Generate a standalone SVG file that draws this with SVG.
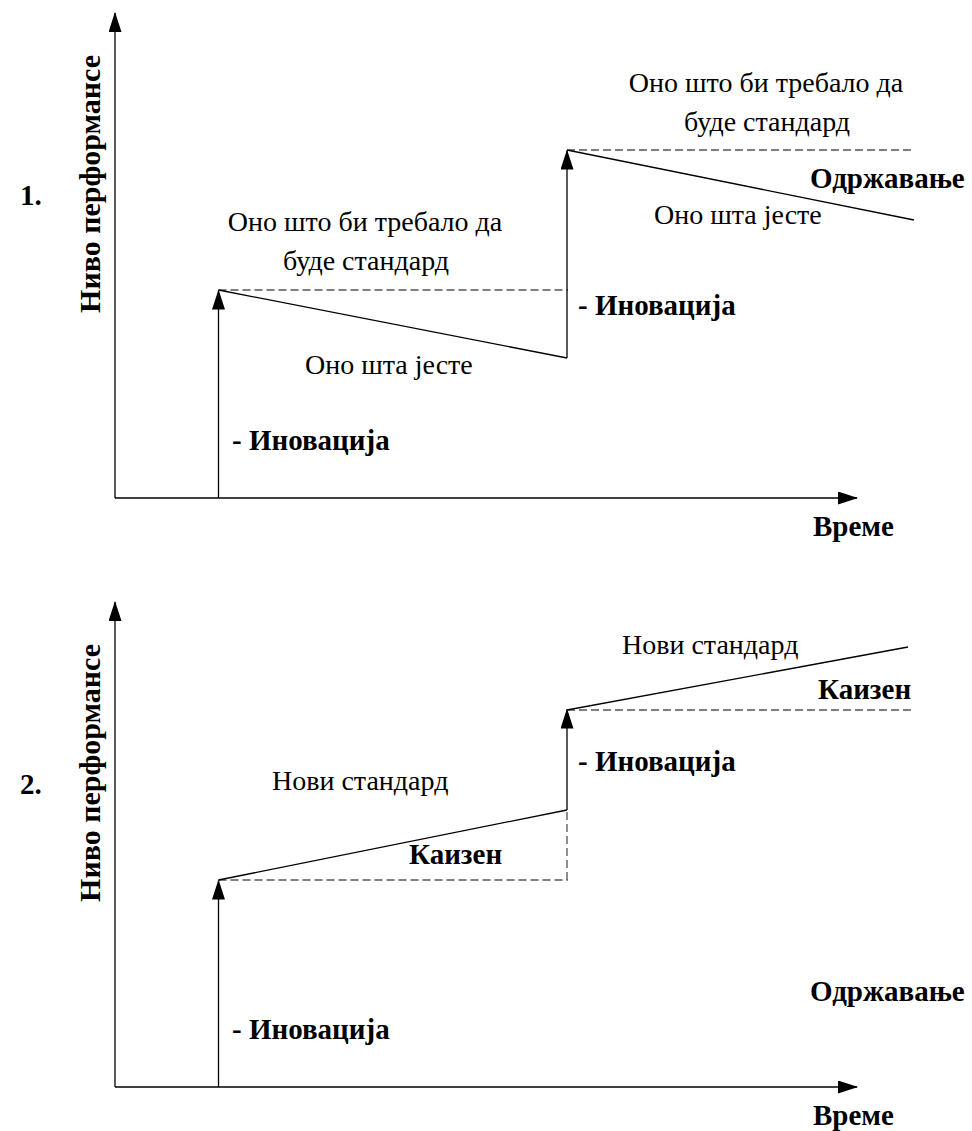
<svg xmlns="http://www.w3.org/2000/svg" width="972" height="1131" viewBox="0 0 972 1131">
<defs>
<marker id="ah" markerWidth="20" markerHeight="13" refX="19" refY="6.5" orient="auto" markerUnits="userSpaceOnUse" viewBox="0 0 20 13">
<path d="M0,0 L20,6.5 L0,13 Z" fill="#000"/>
</marker>
<style>
.ax{stroke:#000;stroke-width:1.3;fill:none}
.sl{stroke:#000;stroke-width:1.3;fill:none}
.ds{stroke:#555;stroke-width:1.3;fill:none;stroke-dasharray:8 4}
.t{font-family:"Liberation Serif","Times New Roman",serif;font-size:28px;fill:#000}
.b{font-family:"Liberation Serif","Times New Roman",serif;font-size:29px;font-weight:bold;fill:#000}
.yl{font-size:30px}
</style>
</defs>
<rect width="972" height="1131" fill="#fff"/>
<g id="connectors">
<line class="ax" x1="115" y1="498" x2="115" y2="13" marker-end="url(#ah)"/>
<line class="ax" x1="115" y1="498" x2="857" y2="498" marker-end="url(#ah)"/>
<line class="ax" x1="218.5" y1="498" x2="218.5" y2="290.5" marker-end="url(#ah)"/>
<line class="ds" x1="218.5" y1="290" x2="568" y2="290"/>
<line class="sl" x1="218.5" y1="290" x2="567" y2="358"/>
<line class="ax" x1="567" y1="358" x2="567" y2="150.5" marker-end="url(#ah)"/>
<line class="ds" x1="567" y1="150" x2="915" y2="150"/>
<line class="sl" x1="567" y1="150" x2="914" y2="220"/>

<line class="ax" x1="115" y1="1087" x2="115" y2="602" marker-end="url(#ah)"/>
<line class="ax" x1="115" y1="1087" x2="857" y2="1087" marker-end="url(#ah)"/>
<line class="ax" x1="218.5" y1="1087" x2="218.5" y2="880.5" marker-end="url(#ah)"/>
<line class="ds" x1="218.5" y1="880" x2="568" y2="880"/>
<line class="ds" x1="567" y1="880" x2="567" y2="810"/>
<line class="sl" x1="218.5" y1="880" x2="567" y2="810"/>
<line class="ax" x1="567" y1="810" x2="567" y2="709.5" marker-end="url(#ah)"/>
<line class="ds" x1="567" y1="710" x2="915" y2="710"/>
<line class="sl" x1="567" y1="710" x2="908" y2="647"/>
</g>
<g id="chart1-labels">
<text class="b" x="20" y="205">1.</text>
<text class="b yl" transform="translate(100,184) rotate(-90)" text-anchor="middle">Ниво перформансе</text>
<text class="t" x="365" y="231" text-anchor="middle">Оно што би требало да</text>
<text class="t" x="366" y="270" text-anchor="middle">буде стандард</text>
<text class="t" x="305" y="374">Оно шта јесте</text>
<text class="b" x="232" y="450">- Иновација</text>
<text class="b" x="578" y="315">- Иновација</text>
<text class="t" x="766" y="92" text-anchor="middle">Оно што би требало да</text>
<text class="t" x="767" y="131" text-anchor="middle">буде стандард</text>
<text class="b" x="810" y="188">Одржавање</text>
<text class="t" x="654" y="224">Оно шта јесте</text>
<text class="b" x="813" y="536">Време</text>
</g>
<g id="chart2-labels">
<text class="b" x="20" y="794">2.</text>
<text class="b yl" transform="translate(100,773) rotate(-90)" text-anchor="middle">Ниво перформансе</text>
<text class="t" x="272" y="790">Нови стандард</text>
<text class="b" x="409" y="864">Каизен</text>
<text class="b" x="578" y="771">- Иновација</text>
<text class="t" x="622" y="654">Нови стандард</text>
<text class="b" x="818" y="699">Каизен</text>
<text class="b" x="810" y="1001">Одржавање</text>
<text class="b" x="232" y="1039">- Иновација</text>
<text class="b" x="813" y="1125">Време</text>
</g>
</svg>
